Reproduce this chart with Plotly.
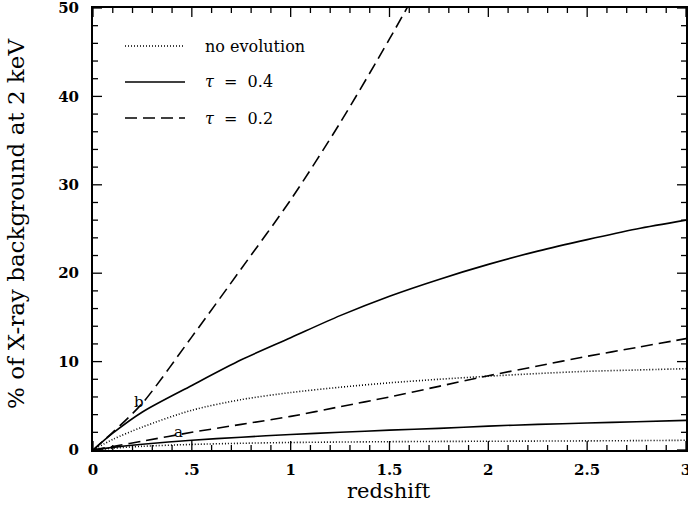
import plotly.graph_objects as go

# redshift grid
z = [0, 0.1, 0.25, 0.5, 0.75, 1.0, 1.25, 1.5, 1.75, 2.0, 2.25, 2.5, 2.75, 3.0]

# curves "b"
noevo_b = [0, 1.2, 2.6, 4.5, 5.7, 6.5, 7.1, 7.6, 8.0, 8.35, 8.65, 8.9, 9.05, 9.2]
tau04_b = [0, 1.9, 4.3, 7.3, 10.2, 12.7, 15.2, 17.4, 19.3, 21.0, 22.5, 23.8, 25.0, 26.0]
z_tau02_b = [0, 0.1, 0.25, 0.5, 0.75, 1.0, 1.25, 1.5, 1.75]
tau02_b = [0, 2.0, 5.3, 12.8, 20.5, 28.3, 37.0, 46.5, 56.5]

# curves "a"
noevo_a = [0, 0.2, 0.42, 0.63, 0.76, 0.85, 0.9, 0.94, 0.97, 0.99, 1.01, 1.03, 1.06, 1.1]
tau04_a = [0, 0.3, 0.65, 1.1, 1.45, 1.75, 2.0, 2.25, 2.45, 2.7, 2.9, 3.05, 3.2, 3.35]
tau02_a = [0, 0.4, 1.0, 2.0, 2.9, 3.8, 4.9, 6.0, 7.2, 8.4, 9.5, 10.6, 11.6, 12.6]

x_tickvals = [0, 0.5, 1, 1.5, 2, 2.5, 3]
x_ticktext = ["0", ".5", "1", "1.5", "2", "2.5", "3"]
y_tickvals = [0, 10, 20, 30, 40, 50]
x_minor_step = 0.1
y_minor_step = 2

legend_labels = ["no evolution", "<i>τ</i>  =  0.4", "<i>τ</i>  =  0.2"]

DOT = "1px,2px"
DASH = "12px,6px"
LW = 1.6

XMAX, YMAX = 3, 50

# plot area in pixels
L, R, T, B = 93, 686, 8, 450
W, H = R - L, B - T

def px_x(px):
    return (px - L) / W

def px_y(py):
    return (B - py) / H

fig = go.Figure()

def add(x, y, dash, width=LW):
    fig.add_trace(go.Scatter(x=x, y=y, mode="lines",
                             line=dict(color="black", width=width, dash=dash, shape="spline", smoothing=0.8),
                             showlegend=False, hoverinfo="skip"))

add(z, noevo_b, DOT)
add(z, tau04_b, "solid")
add(z_tau02_b, tau02_b, DASH)
add(z, noevo_a, DOT)
add(z, tau04_a, "solid")
add(z, tau02_a, DASH)

# inside ticks on all four sides (major + minor), built from the tick lists
MAJ, MIN = 9, 5              # tick lengths in px
ux = XMAX / W                # data units per px (x)
uy = YMAX / H                # data units per px (y)
tx, ty = [], []
nx = int(round(XMAX / x_minor_step))
for i in range(nx + 1):
    xv = round(i * x_minor_step, 6)
    ln = MAJ if any(abs(xv - t) < 1e-6 for t in x_tickvals) else MIN
    tx += [xv, xv, None, xv, xv, None]
    ty += [0, ln * uy, None, YMAX, YMAX - ln * uy, None]
ny = int(round(YMAX / y_minor_step))
for j in range(ny + 1):
    yv = j * y_minor_step
    ln = MAJ if yv in y_tickvals else MIN
    tx += [0, ln * ux, None, XMAX, XMAX - ln * ux, None]
    ty += [yv, yv, None, yv, yv, None]
fig.add_trace(go.Scatter(x=tx, y=ty, mode="lines", line=dict(color="black", width=1.3),
                         showlegend=False, hoverinfo="skip", connectgaps=False))

serif = "DejaVu Serif"

# legend samples (manual)
leg_y = [46, 82, 118]
for yy, d, lab in zip(leg_y, [DOT, "solid", DASH], legend_labels):
    fig.add_shape(type="line", xref="paper", yref="paper",
                  x0=px_x(125), x1=px_x(185), y0=px_y(yy), y1=px_y(yy),
                  line=dict(color="black", width=LW, dash=d))
    fig.add_annotation(xref="paper", yref="paper", x=px_x(203), y=px_y(yy),
                       text=lab, showarrow=False, xanchor="left", yanchor="middle",
                       font=dict(family=serif, size=16, color="black"))

# curve labels
fig.add_annotation(x=0.235, y=5.4, text="b", showarrow=False, font=dict(family=serif, size=15, color="black"))
fig.add_annotation(x=0.43, y=2.0, text="a", showarrow=False, font=dict(family=serif, size=15, color="black"))

# axis titles
fig.add_annotation(xref="paper", yref="paper", x=px_x(389), y=px_y(491), text="redshift",
                   showarrow=False, xanchor="center", yanchor="middle",
                   font=dict(family=serif, size=21, color="black"))
fig.add_annotation(xref="paper", yref="paper", x=px_x(16), y=px_y(224),
                   text="% of X-ray background at 2 keV", textangle=-90,
                   showarrow=False, xanchor="center", yanchor="middle",
                   font=dict(family=serif, size=23, color="black"))

tickfont = dict(family=serif, size=15, color="black", weight="bold")
base = dict(showgrid=False, zeroline=False, automargin=False, ticks="", mirror=True,
            showline=True, linecolor="black", linewidth=2, tickfont=tickfont, ticklabeloverflow="allow")

fig.update_layout(
    xaxis=dict(range=[0, XMAX], tickvals=x_tickvals, ticktext=x_ticktext, ticklabelstandoff=5, **base),
    yaxis=dict(range=[0, YMAX], tickvals=y_tickvals, ticklabelstandoff=9, **base),
    width=688, height=506, margin=dict(l=L, r=688 - R, t=T, b=506 - B),
    plot_bgcolor="white", paper_bgcolor="white", showlegend=False,
)

fig.write_html("out.html", config={"displayModeBar": False},
               post_script="document.body.style.margin='0';")
